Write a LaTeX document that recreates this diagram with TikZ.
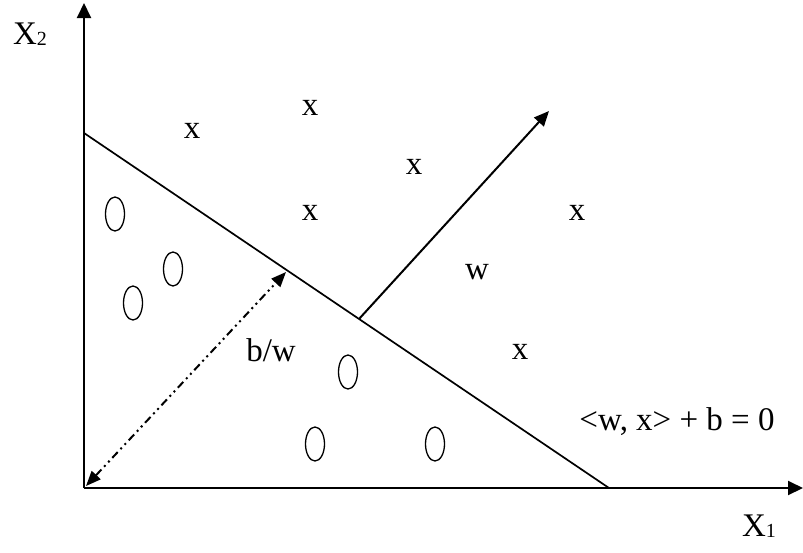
\documentclass[tikz,border=0pt]{standalone}
\usepackage{fontspec}
\setmainfont{Liberation Serif}
\usetikzlibrary{arrows.meta,shapes.geometric}
\tikzset{
  lbl/.style={inner sep=0pt, font=\fontsize{33}{38}\selectfont},
  oval/.style={draw, ellipse, line width=1.3pt, minimum width=19pt, minimum height=34pt, inner sep=0pt},
  axis/.style={line width=2pt, -{Triangle[length=15pt,width=14pt]}},
  wvec/.style={line width=2pt, -{Triangle[length=15pt,width=13pt]}},
  hyper/.style={line width=1.7pt},
  dist/.style={line width=2pt, dash pattern=on 8pt off 4pt on 2pt off 4pt on 2pt off 4pt,
    {Triangle[length=15pt,width=12pt]}-{Triangle[length=15pt,width=12pt]}},
}
\newcommand{\sub}[1]{\raisebox{-1pt}{\fontsize{20}{20}\selectfont #1}}
\begin{document}
\begin{tikzpicture}[x=1pt,y=-1pt]
\useasboundingbox (0,0) rectangle (803,552);
% axes
\coordinate (O) at (84,488);
\coordinate (ytop) at (84,3);
\coordinate (xend) at (803,488);
\draw[axis] (O) -- (ytop);
\draw[axis] (O) -- (xend);
% hyperplane
\coordinate (h1) at (84,133);
\coordinate (h2) at (609,488);
\draw[hyper] (h1) -- (h2);
% normal vector w
\coordinate (wb) at (359,319);
\coordinate (wt) at (549,111);
\draw[wvec] (wb) -- (wt);
% distance b/w
\coordinate (d1) at (86,486);
\coordinate (d2) at (286,272);
\draw[dist] (d1) -- (d2);
% labels
\node[lbl] (X2) at (30,34) {X\sub{2}};
\node[lbl] (X1) at (759,526) {X\sub{1}};
\node[lbl] (wl) at (477,272) {w};
\node[lbl] (bw) at (271,350) {b/w};
\node[lbl] (eq) at (677,422) {<w, x> + b = 0};
% x points
\node[lbl] (x1) at (192,131) {x};
\node[lbl] (x2) at (310,108) {x};
\node[lbl] (x3) at (414,167) {x};
\node[lbl] (x4) at (310,213) {x};
\node[lbl] (x5) at (577,213) {x};
\node[lbl] (x6) at (520,352) {x};
% o points
\node[oval] (o1) at (115,214) {};
\node[oval] (o2) at (173,269) {};
\node[oval] (o3) at (133,303) {};
\node[oval] (o4) at (348,372) {};
\node[oval] (o5) at (315,444) {};
\node[oval] (o6) at (435,444) {};
\end{tikzpicture}
\end{document}
